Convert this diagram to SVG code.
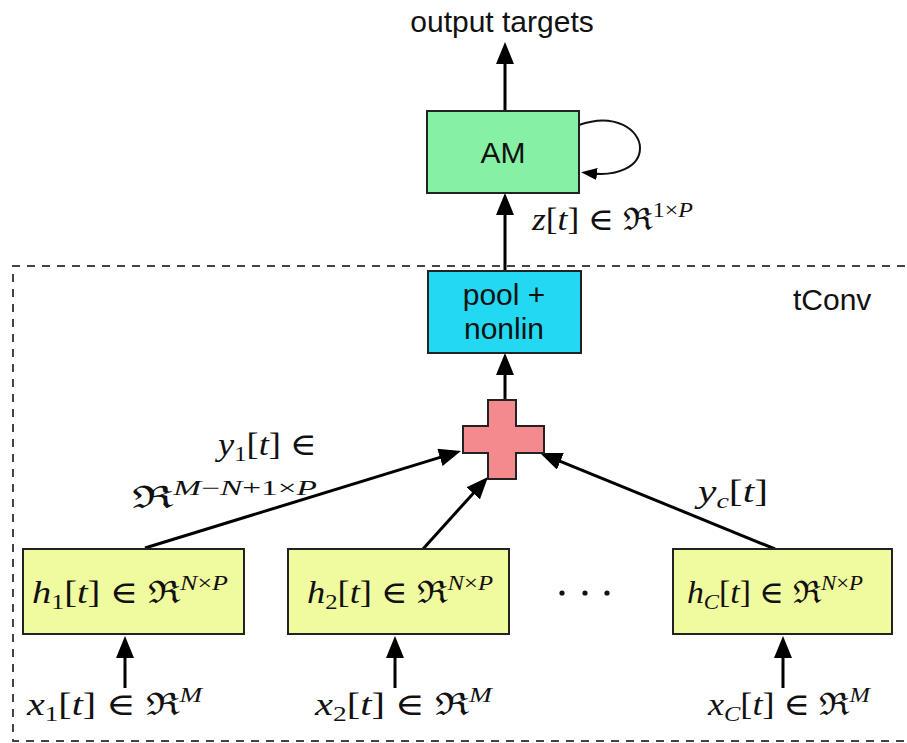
<svg xmlns="http://www.w3.org/2000/svg" width="907" height="743" viewBox="0 0 907 743">
  <defs>
    <style>
      .box { stroke: #222; stroke-width: 2; }
      .sans { font-family: "Liberation Sans", Arial, sans-serif; font-size: 30px; fill: #111; }
      .math { font-family: "Liberation Serif", "DejaVu Serif", serif; font-size: 31px; fill: #111; }
      .i { font-style: italic; }
      .sub { font-size: 21px; baseline-shift: -6px; }
      .sup { font-size: 21px; baseline-shift: 13px; }
      .edge { fill: none; stroke: #000; stroke-width: 3; }
      .loop { fill: none; stroke: #111; stroke-width: 2; }
    </style>
    <marker id="head" markerUnits="userSpaceOnUse" markerWidth="22" markerHeight="18" refX="12" refY="9" orient="auto">
      <path d="M0,0 L22,9 L0,18 z" fill="#000"/>
    </marker>
    <marker id="headSmall" markerUnits="userSpaceOnUse" markerWidth="16" markerHeight="12" refX="4" refY="6" orient="auto">
      <path d="M0,0 L16,6 L0,12 z" fill="#000"/>
    </marker>
  </defs>

  <rect width="907" height="743" fill="#fff"/>

  <!-- tConv region -->
  <g id="tconv-region">
    <path d="M920,266 H13 V741 H920" fill="none" stroke="#444" stroke-width="2" stroke-dasharray="8 7"/>
    <text class="sans" x="793" y="310">tConv</text>
  </g>

  <!-- connectors -->
  <g id="connectors">
    <line class="edge" x1="505" y1="111" x2="505" y2="52" marker-end="url(#head)"/>
    <path class="loop" d="M579,125 C615,112 640,130 640,148 C640,168 615,176 593,173.5" marker-end="url(#headSmall)"/>
    <line class="edge" x1="505" y1="271" x2="505" y2="203" marker-end="url(#head)"/>
    <line class="edge" x1="505" y1="400" x2="505" y2="363" marker-end="url(#head)"/>
    <line class="edge" x1="145" y1="548" x2="451.4" y2="453.9" marker-end="url(#head)"/>
    <line class="edge" x1="423" y1="549" x2="481.3" y2="484.4" marker-end="url(#head)"/>
    <line class="edge" x1="775" y1="549" x2="549.3" y2="456.8" marker-end="url(#head)"/>
    <line class="edge" x1="125" y1="688" x2="125" y2="646" marker-end="url(#head)"/>
    <line class="edge" x1="395" y1="688" x2="395" y2="646" marker-end="url(#head)"/>
    <line class="edge" x1="783" y1="688" x2="783" y2="646" marker-end="url(#head)"/>
  </g>

  <!-- output label -->
  <g id="output">
    <text class="sans" x="502" y="32" text-anchor="middle">output targets</text>
  </g>

  <!-- acoustic model -->
  <g id="am">
    <rect class="box" x="427" y="111" width="152" height="82" fill="#86f0a4"/>
    <text class="sans" x="503" y="163" text-anchor="middle">AM</text>
  </g>

  <!-- z[t] label -->
  <g id="z-label">
    <text class="math" x="532" y="230" textLength="161" lengthAdjust="spacingAndGlyphs"><tspan class="i">z</tspan>[<tspan class="i">t</tspan>] ∈ ℜ<tspan class="sup">1×<tspan class="i">P</tspan></tspan></text>
  </g>

  <!-- pooling and nonlinearity -->
  <g id="pool">
    <rect class="box" x="428" y="271" width="153" height="82" fill="#22d8f2"/>
    <text class="sans" x="504" y="305" text-anchor="middle">pool +</text>
    <text class="sans" x="504" y="339" text-anchor="middle">nonlin</text>
  </g>

  <!-- summation -->
  <g id="sum">
    <path class="box" d="M488,400 H516 V426 H544 V453 H516 V479 H488 V453 H463 V426 H488 Z" fill="#f48a8e"/>
  </g>

  <!-- channel output labels -->
  <g id="y1-label">
    <text class="math" x="218" y="455" textLength="99" lengthAdjust="spacingAndGlyphs"><tspan class="i">y</tspan><tspan class="sub">1</tspan>[<tspan class="i">t</tspan>] ∈</text>
    <text class="math" x="132" y="508" textLength="185" lengthAdjust="spacingAndGlyphs">ℜ<tspan class="sup"><tspan class="i">M</tspan>−<tspan class="i">N</tspan>+1×<tspan class="i">P</tspan></tspan></text>
  </g>
  <g id="yc-label">
    <text class="math" x="698" y="502" textLength="70" lengthAdjust="spacingAndGlyphs"><tspan class="i">y</tspan><tspan class="sub i">c</tspan>[<tspan class="i">t</tspan>]</text>
  </g>

  <!-- filter banks -->
  <g id="h1">
    <rect class="box" x="23" y="549" width="221" height="85" fill="#f0fa9e"/>
    <text class="math" x="32" y="603" textLength="196" lengthAdjust="spacingAndGlyphs"><tspan class="i">h</tspan><tspan class="sub">1</tspan>[<tspan class="i">t</tspan>] ∈ ℜ<tspan class="sup"><tspan class="i">N</tspan>×<tspan class="i">P</tspan></tspan></text>
  </g>
  <g id="h2">
    <rect class="box" x="288" y="549" width="221" height="85" fill="#f0fa9e"/>
    <text class="math" x="307" y="603" textLength="186" lengthAdjust="spacingAndGlyphs"><tspan class="i">h</tspan><tspan class="sub">2</tspan>[<tspan class="i">t</tspan>] ∈ ℜ<tspan class="sup"><tspan class="i">N</tspan>×<tspan class="i">P</tspan></tspan></text>
  </g>
  <g id="ellipsis">
    <circle cx="562" cy="593" r="2.6" fill="#111"/>
    <circle cx="585" cy="593" r="2.6" fill="#111"/>
    <circle cx="607" cy="593" r="2.6" fill="#111"/>
  </g>
  <g id="hC">
    <rect class="box" x="673" y="549" width="219" height="85" fill="#f0fa9e"/>
    <text class="math" x="687" y="603" textLength="176" lengthAdjust="spacingAndGlyphs"><tspan class="i">h</tspan><tspan class="sub i">C</tspan>[<tspan class="i">t</tspan>] ∈ ℜ<tspan class="sup"><tspan class="i">N</tspan>×<tspan class="i">P</tspan></tspan></text>
  </g>

  <!-- channel inputs -->
  <g id="x1">
    <text class="math" x="27" y="715" textLength="175" lengthAdjust="spacingAndGlyphs"><tspan class="i">x</tspan><tspan class="sub">1</tspan>[<tspan class="i">t</tspan>] ∈ ℜ<tspan class="sup i">M</tspan></text>
  </g>
  <g id="x2">
    <text class="math" x="315" y="715" textLength="177" lengthAdjust="spacingAndGlyphs"><tspan class="i">x</tspan><tspan class="sub">2</tspan>[<tspan class="i">t</tspan>] ∈ ℜ<tspan class="sup i">M</tspan></text>
  </g>
  <g id="xC">
    <text class="math" x="708" y="715" textLength="162" lengthAdjust="spacingAndGlyphs"><tspan class="i">x</tspan><tspan class="sub i">C</tspan>[<tspan class="i">t</tspan>] ∈ ℜ<tspan class="sup i">M</tspan></text>
  </g>
</svg>
